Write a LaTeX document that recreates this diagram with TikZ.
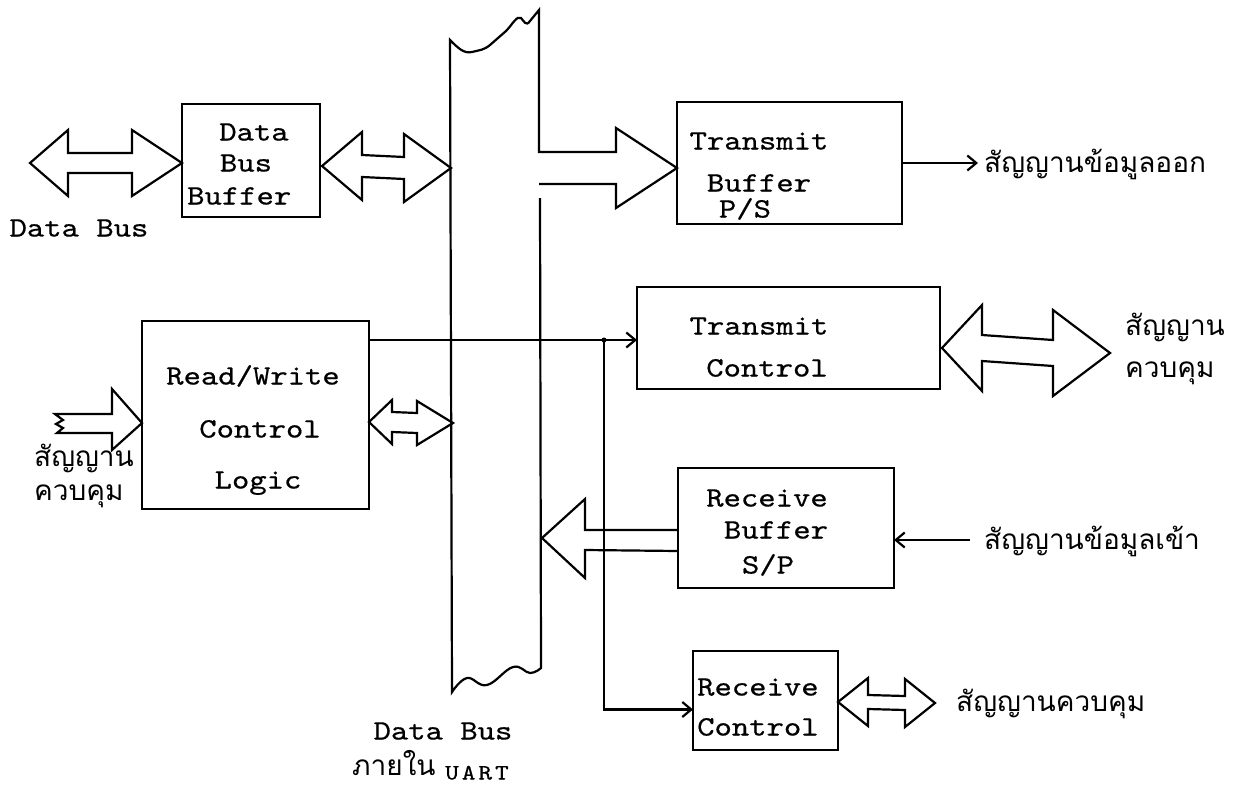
\documentclass[tikz,border=0pt]{standalone}
\usepackage{fontspec}
\newfontfamily\thaifont[Script=Thai]{Loma}
\newfontfamily\twfont{lmmono10-regular.otf}[FakeStretch=1.18,FakeBold=0.6]
\usetikzlibrary{calc,arrows.meta}
\tikzset{
  ln/.style={line width=2.2pt, line join=miter},
  box/.style={draw, line width=2.2pt, inner sep=0pt, outer sep=0pt},
  tw/.style={font=\twfont\fontsize{28}{30}\selectfont, inner sep=0pt, text height=17pt, text depth=0pt},
  th/.style={font=\thaifont\fontsize{28}{30}\selectfont, inner sep=0pt, anchor=base west},
  conn/.style={line width=2.2pt, -{Straight Barb[length=9pt,width=15pt,line width=2.2pt]}},
}
\newcommand\dblarrow[6]{\draw[ln] (#1) -- ++(#3,-#5) -- ++(0,#5-#6) -- ($(#2)+(-#4,-#6)$) -- ++(0,#6-#5) -- (#2) -- ++(-#4,#5) -- ++(0,#6-#5) -- ($(#1)+(#3,#6)$) -- ++(0,#5-#6) -- cycle;}
\begin{document}
\begin{tikzpicture}[x=1pt,y=-1pt]
\useasboundingbox (0,0) rectangle (1233,790);
% boxes
\node[box, minimum width=138pt, minimum height=113pt] (dbb) at (251,160.5) {};
\node[box, minimum width=225pt, minimum height=122pt] (tb) at (789.5,163) {};
\node[box, minimum width=303pt, minimum height=102pt] (tc) at (788.5,338) {};
\node[box, minimum width=227pt, minimum height=188pt] (rw) at (255.5,415) {};
\node[box, minimum width=216pt, minimum height=120pt] (rb) at (786,528) {};
\node[box, minimum width=145pt, minimum height=99pt] (rc) at (765.5,700.5) {};
% box texts
\node[tw] (dbb1) at (254,132) {Data};
\node[tw] (dbb2) at (246,163) {Bus};
\node[tw, anchor=west] (dbb3) at (187,196) {Buffer};
\node[tw] (dbl) at (79,228) {Data Bus};
\node[tw] (tb1) at (759,141) {Transmit};
\node[tw] (tb2) at (759,183) {Buffer};
\node[tw] (tb3) at (745,209) {P/S};
\node[tw] (tc1) at (759,326) {Transmit};
\node[tw] (tc2) at (767,368) {Control};
\node[tw] (rw1) at (253,376) {Read/Write};
\node[tw] (rw2) at (260,429) {Control};
\node[tw] (rw3) at (258,480) {Logic};
\node[tw] (rb1) at (767,498) {Receive};
\node[tw] (rb2) at (776,530) {Buffer};
\node[tw] (rb3) at (768,565) {S/P};
\node[tw, anchor=west] (rc1) at (697,687) {Receive};
\node[tw, anchor=west] (rc2) at (697,727) {Control};
\node[tw] (bl1) at (443,731) {Data Bus};
\node[tw, font=\twfont\fontsize{22}{24}\selectfont, text height=13pt, anchor=west] (bl2) at (445,773) {U\kern3pt A\kern3pt R\kern3pt T};
% Thai texts
\node[th] (t1) at (984,172) {สัญญานข้อมูลออก};
\node[th] (t2) at (1125,335) {สัญญาน};
\node[th] (t3) at (1125,377) {ควบคุม};
\node[th] (t4) at (34,466) {สัญญาน};
\node[th] (t5) at (34,500) {ควบคุม};
\node[th] (t6) at (984,549) {สัญญานข้อมูลเข้า};
\node[th] (t7) at (956,711) {สัญญานควบคุม};
\node[th] (t8) at (352,775) {ภายใน};
% coordinates
\coordinate (dbin) at (30,163);
\coordinate (dbbL) at ($(dbb.west)+(0,2.5)$);
\coordinate (dbbR) at ($(dbb.east)+(2,5.5)$);
\coordinate (busA) at (451,168);
\coordinate (rwR) at ($(rw.east)+(0,7)$);
\coordinate (busB) at (453,423);
\coordinate (tcR) at ($(tc.east)+(2,10)$);
\coordinate (tcout) at (1110,353);
\coordinate (rcR) at ($(rc.east)+(0,1.5)$);
\coordinate (rcout) at (935,703);
\coordinate (tbtip) at ($(tb.west)+(0,5)$);
\coordinate (rbw) at ($(rb.west)+(0,12)$);
\coordinate (busC) at (542,538);
\coordinate (rwin) at ($(rw.west)+(0,8)$);
\coordinate (rwtail) at (55,423);
% fat double arrows
\dblarrow{dbin}{dbbL}{38}{50}{33}{10}
\dblarrow{dbbR}{busA}{40}{47}{34}{11}
\dblarrow{rwR}{busB}{23}{36}{22}{10}
\dblarrow{tcR}{tcout}{40}{57}{43}{13}
\dblarrow{rcR}{rcout}{30}{30}{24}{7}
% internal bus with transmit arrow
\draw[ln] (540,198) -- (541,668)
  -- plot[smooth, tension=0.7] coordinates {(541,668) (530,673) (513,667) (487,685) (467,678) (452,692)}
  -- (450,40)
  .. controls (458,48) and (464,54) .. (472,52)
  .. controls (480,50) and (484,50) .. (490,45)
  -- (506,31)
  .. controls (512,25) and (517,15) .. (521,18)
  .. controls (524,21) and (526,27) .. (530,21)
  -- (539,10) -- (539,152)
  -- ($(tbtip)+(-61,-16)$) -- ++(0,-24) -- (tbtip) -- ++(-61,40) -- ++(0,-24) -- (539,184);
% receive buffer to bus
\draw[ln] ($(rbw)+(0,-10)$) -- ($(busC)+(43,-8)$) -- ++(0,-31) -- (busC) -- ++(43,40) -- ++(0,-28) -- ($(rbw)+(0,11)$);
% control input arrow with broken tail
\draw[ln] ($(rwtail)+(0,-9)$) -- ($(rwin)+(-30,-9)$) -- ++(0,-25) -- (rwin) -- ++(-30,27) -- ++(0,-17) -- ($(rwtail)+(2,10)$) -- ++(6,-5) -- ++(-7,-4) -- ++(7,-4) -- cycle;
% control lines
\coordinate (c1) at ($(rw.north east)+(0,19)$);
\draw[conn] (c1) -- (c1 -| tc.west);
\coordinate (br) at ($(c1)+(235,0)$);
\coordinate (rcin) at ($(rc.west)+(0,9)$);
\draw[conn] (br) |- (rcin);
\fill (br) circle (2.5pt);
% serial lines
\coordinate (outA) at ($(tb.east)+(76,0)$);
\draw[conn] (tb.east) -- (outA);
\coordinate (inB) at ($(rb.east)+(76,12)$);
\draw[conn] (inB) -- (inB -| rb.east);
\end{tikzpicture}
\end{document}
